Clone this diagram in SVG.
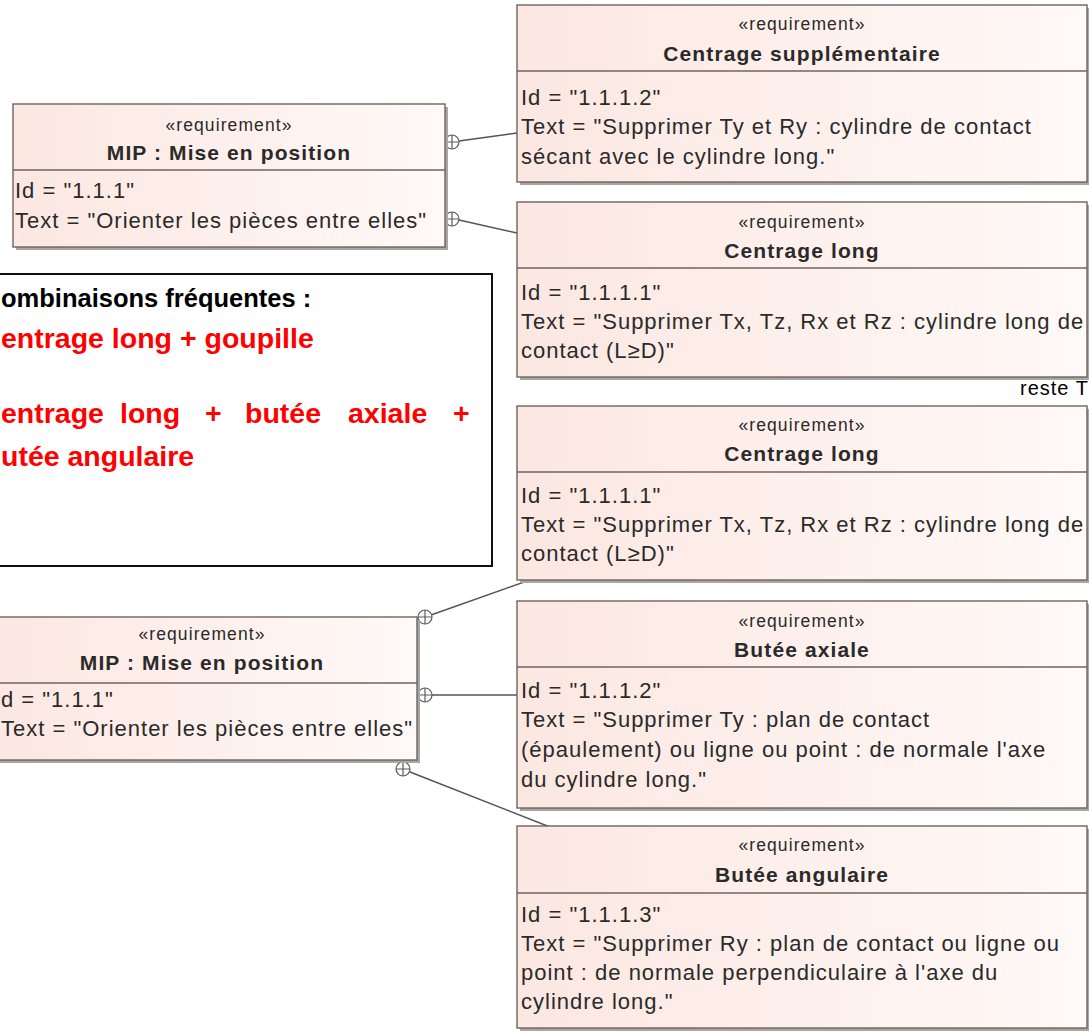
<svg xmlns="http://www.w3.org/2000/svg" width="1089" height="1032" viewBox="0 0 1089 1032">
  <defs>
    <linearGradient id="reqFill" x1="0" y1="0" x2="1" y2="0">
      <stop offset="0" stop-color="#fce7e1"/>
      <stop offset="1" stop-color="#fff9f7"/>
    </linearGradient>
    <!-- containment end: circle with a cross -->
    <symbol id="own" viewBox="-9 -9 18 18" overflow="visible">
      <circle r="7" fill="#fff" stroke="#5a5a5a" stroke-width="1.2"/>
      <path d="M-7 0H7M0 -7V7" stroke="#5a5a5a" stroke-width="1.2"/>
    </symbol>
  </defs>
  <style>
    .shadow { fill: #a9a6a4; }
    .box { fill: url(#reqFill); stroke: #6e6460; stroke-width: 1.4; }
    .sep { stroke: #6e6460; stroke-width: 1.4; }
    .st { font-family: "Liberation Sans", Arial, sans-serif; font-size: 17.5px; letter-spacing: 1.1px; fill: #2a2a2a; text-anchor: middle; }
    .nm { font-family: "Liberation Sans", Arial, sans-serif; font-size: 21px; font-weight: bold; letter-spacing: 1.1px; fill: #2a2a2a; text-anchor: middle; }
    .at { font-family: "Liberation Sans", Arial, sans-serif; font-size: 22px; letter-spacing: 1px; fill: #2a2a2a; }
    .link { stroke: #555; stroke-width: 1.5; fill: none; }
    .note { fill: #fff; stroke: #111; stroke-width: 2; }
    .nb { font-family: "Liberation Sans", Arial, sans-serif; font-weight: bold; font-size: 25.5px; fill: #000; }
    .nr { font-family: "Liberation Sans", Arial, sans-serif; font-weight: bold; font-size: 28.5px; fill: #f00; }
    .lbl { font-family: "Liberation Sans", Arial, sans-serif; font-size: 20px; letter-spacing: 1px; fill: #000; }
  </style>
  <rect width="1089" height="1032" fill="#fff"/>

  <!-- connectors -->
  <g id="connectors">
    <line class="link" x1="459" y1="141" x2="517" y2="133"/>
    <line class="link" x1="459" y1="220" x2="517" y2="233"/>
    <line class="link" x1="431" y1="615" x2="527" y2="581"/>
    <line class="link" x1="432" y1="695" x2="517" y2="695"/>
    <line class="link" x1="410" y1="772" x2="550" y2="827"/>
    <use href="#own" x="443" y="133" width="18" height="18"/>
    <use href="#own" x="443" y="210" width="18" height="18"/>
    <use href="#own" x="416" y="608" width="18" height="18"/>
    <use href="#own" x="416" y="686" width="18" height="18"/>
    <use href="#own" x="394" y="760" width="18" height="18"/>
  </g>

  <!-- parent requirement, upper -->
  <g id="mip-top">
    <rect class="shadow" x="16" y="107" width="432" height="143"/>
    <rect class="box" x="13" y="104" width="432" height="143"/>
    <line class="sep" x1="13" y1="170" x2="445" y2="170"/>
    <text class="st" x="229" y="131">«requirement»</text>
    <text class="nm" x="229" y="160">MIP : Mise en position</text>
    <text class="at" x="15" y="198">Id = "1.1.1"</text>
    <text class="at" x="15" y="228">Text = "Orienter les pièces entre elles"</text>
  </g>

  <!-- child requirements, upper group -->
  <g id="centrage-supp">
    <rect class="shadow" x="520" y="8" width="570" height="177"/>
    <rect class="box" x="517" y="5" width="570" height="177"/>
    <line class="sep" x1="517" y1="71" x2="1087" y2="71"/>
    <text class="st" x="802" y="30">«requirement»</text>
    <text class="nm" x="802" y="61">Centrage supplémentaire</text>
    <text class="at" x="521" y="105">Id = "1.1.1.2"</text>
    <text class="at" x="521" y="134">Text = "Supprimer Ty et Ry : cylindre de contact</text>
    <text class="at" x="521" y="164">sécant avec le cylindre long."</text>
  </g>

  <g id="centrage-long-1">
    <rect class="shadow" x="520" y="205" width="570" height="175"/>
    <rect class="box" x="517" y="202" width="570" height="175"/>
    <line class="sep" x1="517" y1="268" x2="1087" y2="268"/>
    <text class="st" x="802" y="228">«requirement»</text>
    <text class="nm" x="802" y="258">Centrage long</text>
    <text class="at" x="521" y="300">Id = "1.1.1.1"</text>
    <text class="at" x="521" y="329">Text = "Supprimer Tx, Tz, Rx et Rz : cylindre long de</text>
    <text class="at" x="521" y="358">contact (L≥D)"</text>
  </g>

  <text class="lbl" x="1020" y="395">reste T</text>

  <!-- note -->
  <g id="note">
    <rect class="note" x="-10" y="274" width="502" height="292"/>
    <text class="nb" x="1" y="307">ombinaisons fréquentes :</text>
    <text class="nr" x="1" y="348">entrage long + goupille</text>
    <text class="nr" y="423"><tspan x="1">entrage</tspan><tspan x="120">long</tspan><tspan x="205">+</tspan><tspan x="245">butée</tspan><tspan x="348">axiale</tspan><tspan x="453">+</tspan></text>
    <text class="nr" x="1" y="466">utée angulaire</text>
  </g>

  <!-- parent requirement, lower -->
  <g id="mip-bottom">
    <rect class="shadow" x="-6" y="620" width="426" height="143"/>
    <rect class="box" x="-9" y="617" width="426" height="143"/>
    <line class="sep" x1="-9" y1="683" x2="417" y2="683"/>
    <text class="st" x="202" y="640">«requirement»</text>
    <text class="nm" x="202" y="670">MIP : Mise en position</text>
    <text class="at" x="1" y="707">d = "1.1.1"</text>
    <text class="at" x="1" y="736">Text = "Orienter les pièces entre elles"</text>
  </g>

  <!-- child requirements, lower group -->
  <g id="centrage-long-2">
    <rect class="shadow" x="520" y="409" width="570" height="174"/>
    <rect class="box" x="517" y="406" width="570" height="174"/>
    <line class="sep" x1="517" y1="472" x2="1087" y2="472"/>
    <text class="st" x="802" y="431">«requirement»</text>
    <text class="nm" x="802" y="461">Centrage long</text>
    <text class="at" x="521" y="503">Id = "1.1.1.1"</text>
    <text class="at" x="521" y="532">Text = "Supprimer Tx, Tz, Rx et Rz : cylindre long de</text>
    <text class="at" x="521" y="561">contact (L≥D)"</text>
  </g>

  <g id="butee-axiale">
    <rect class="shadow" x="520" y="604" width="570" height="207"/>
    <rect class="box" x="517" y="601" width="570" height="207"/>
    <line class="sep" x1="517" y1="667" x2="1087" y2="667"/>
    <text class="st" x="802" y="627">«requirement»</text>
    <text class="nm" x="802" y="657">Butée axiale</text>
    <text class="at" x="521" y="698">Id = "1.1.1.2"</text>
    <text class="at" x="521" y="727">Text = "Supprimer Ty : plan de contact</text>
    <text class="at" x="521" y="757">(épaulement) ou ligne ou point : de normale l'axe</text>
    <text class="at" x="521" y="787">du cylindre long."</text>
  </g>

  <g id="butee-angulaire">
    <rect class="shadow" x="520" y="829" width="570" height="202"/>
    <rect class="box" x="517" y="826" width="570" height="202"/>
    <line class="sep" x1="517" y1="893" x2="1087" y2="893"/>
    <text class="st" x="802" y="851">«requirement»</text>
    <text class="nm" x="802" y="882">Butée angulaire</text>
    <text class="at" x="521" y="922">Id = "1.1.1.3"</text>
    <text class="at" x="521" y="951">Text = "Supprimer Ry : plan de contact ou ligne ou</text>
    <text class="at" x="521" y="980">point : de normale perpendiculaire à l'axe du</text>
    <text class="at" x="521" y="1009">cylindre long."</text>
  </g>
</svg>
